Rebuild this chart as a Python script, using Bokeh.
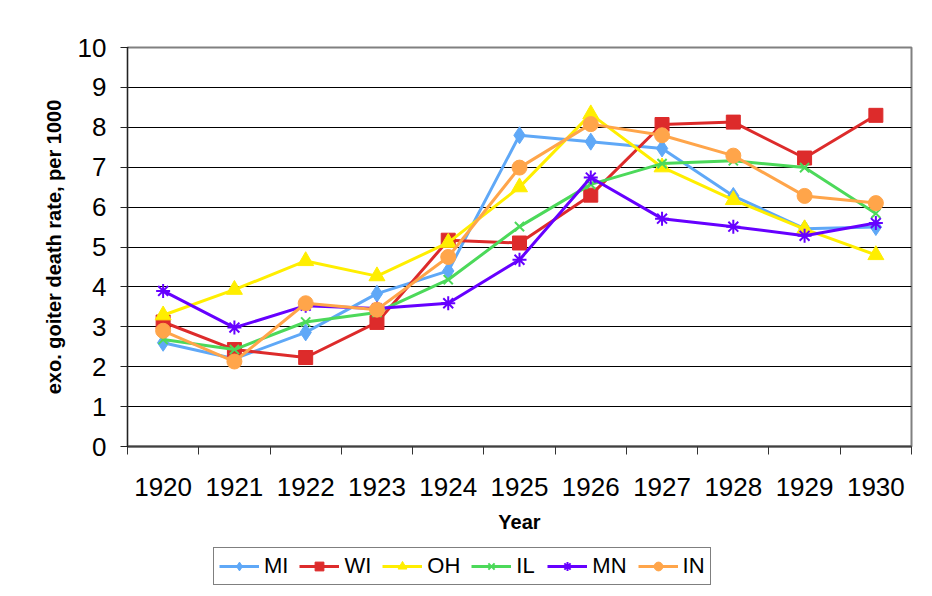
from bokeh.plotting import figure
from bokeh.models import FixedTicker, Legend, LegendItem, ColumnDataSource
from bokeh.layouts import column
from bokeh.embed import file_html
from bokeh.resources import INLINE

years = ["1920", "1921", "1922", "1923", "1924", "1925", "1926", "1927", "1928", "1929", "1930"]
MI = [2.6, 2.2, 2.86, 3.83, 4.4, 7.8, 7.64, 7.47, 6.28, 5.46, 5.5]
WI = [3.12, 2.43, 2.23, 3.11, 5.17, 5.1, 6.3, 8.07, 8.13, 7.23, 8.3]
OH = [3.29, 3.93, 4.65, 4.27, 5.11, 6.5, 8.33, 7.0, 6.18, 5.45, 4.8]
IL = [2.68, 2.43, 3.12, 3.36, 4.18, 5.51, 6.57, 7.09, 7.16, 6.99, 5.84]
MN = [3.9, 2.98, 3.53, 3.46, 3.59, 4.68, 6.74, 5.71, 5.51, 5.28, 5.6]
IN = [2.9, 2.13, 3.59, 3.43, 4.75, 6.99, 8.08, 7.8, 7.29, 6.28, 6.1]

series = [
    ("MI", MI, "#5FA8F7", "diamond", 17),
    ("WI", WI, "#DD2B2B", "square", 14),
    ("OH", OH, "#FFEE00", "triangle", 16),
    ("IL", IL, "#4CD95A", "x", 13),
    ("MN", MN, "#6600FF", "asterisk", 14),
    ("IN", IN, "#FFA54A", "circle", 15),
]

xs = [i + 0.5 for i in range(len(years))]

p = figure(width=924, height=540, x_range=(0, 11), y_range=(0, 10),
           output_backend="svg", toolbar_location=None,
           min_border_left=127, min_border_right=13, min_border_top=47, min_border_bottom=94)

FONT = "Liberation Sans"

# x axis: labels centered between tick marks
p.xaxis.ticker = FixedTicker(ticks=xs, minor_ticks=list(range(12)))
p.xaxis.major_label_overrides = {x: y for x, y in zip(xs, years)}
p.xaxis.major_tick_line_color = None
p.xaxis.major_tick_out = 0
p.xaxis.minor_tick_out = 8
p.xaxis.minor_tick_in = 0
p.xaxis.minor_tick_line_color = "#333333"
p.xaxis.minor_tick_line_width = 1
p.xaxis.major_label_standoff = 23
p.xaxis.axis_line_color = "#404040"
p.xaxis.axis_line_width = 2
p.xaxis.axis_label = "Year"
p.xaxis.axis_label_standoff = 12

p.yaxis.ticker = FixedTicker(ticks=list(range(11)))
p.yaxis.major_tick_out = 7
p.yaxis.major_tick_in = 1
p.yaxis.minor_tick_line_color = None
p.yaxis.major_tick_line_color = "#222222"
p.yaxis.axis_line_color = "#222222"
p.yaxis.axis_line_width = 1
p.yaxis.major_label_standoff = 14
p.yaxis.axis_label = "exo. goiter death rate, per 1000"
p.yaxis.axis_label_standoff = 10

for ax in (p.xaxis, p.yaxis):
    ax.major_label_text_font = FONT
    ax.major_label_text_font_size = "26px"
    ax.major_label_text_color = "#000000"
    ax.axis_label_text_font = FONT
    ax.axis_label_text_font_size = "20px"
    ax.axis_label_text_font_style = "bold"
    ax.axis_label_text_color = "#000000"

p.xgrid.grid_line_color = None
p.ygrid.ticker = FixedTicker(ticks=list(range(1, 10)))
p.ygrid.grid_line_color = "#000000"
p.ygrid.grid_line_width = 1

p.outline_line_color = "#808080"
p.outline_line_width = 2
p.background_fill_color = "white"
p.border_fill_color = "white"

# separate strip below the chart that holds the legend (its data lies out of view)
lg = figure(width=924, height=52, x_range=(100, 101), y_range=(100, 101),
            output_backend="svg", toolbar_location=None,
            x_axis_location=None, y_axis_location=None,
            min_border_left=0, min_border_right=0, min_border_top=0, min_border_bottom=0)
lg.xgrid.grid_line_color = None
lg.ygrid.grid_line_color = None
lg.outline_line_color = None


def draw(fig, src, color, marker, size):
    r1 = fig.line("x", "y", source=src, line_color=color, line_width=3)
    if marker in ("x", "asterisk"):
        r2 = fig.scatter("x", "y", source=src, marker=marker, size=size,
                         line_color=color, line_width=2, fill_color=None)
    else:
        r2 = fig.scatter("x", "y", source=src, marker=marker, size=size,
                         line_color=color, fill_color=color, line_width=1)
    return r1, r2


items = []
for name, vals, color, marker, size in series:
    src = ColumnDataSource(dict(x=xs, y=vals))
    draw(p, src, color, marker, size)
    r1, r2 = draw(lg, src, color, marker, size)
    items.append(LegendItem(label=name, renderers=[r1, r2]))

legend = Legend(items=items, orientation="horizontal", location=(86, 7))
legend.label_text_font = FONT
legend.label_text_font_size = "22px"
legend.label_text_color = "#000000"
legend.glyph_width = 40
legend.glyph_height = 22
legend.label_standoff = 5
legend.label_height = 22
legend.spacing = 11
legend.padding = 5
legend.margin = 0
legend.border_line_color = "#000000"
legend.border_line_width = 1
legend.background_fill_alpha = 1
lg.add_layout(legend, "center")

layout = column(p, lg, spacing=0)
open("out.html", "w").write(file_html(layout, INLINE))
